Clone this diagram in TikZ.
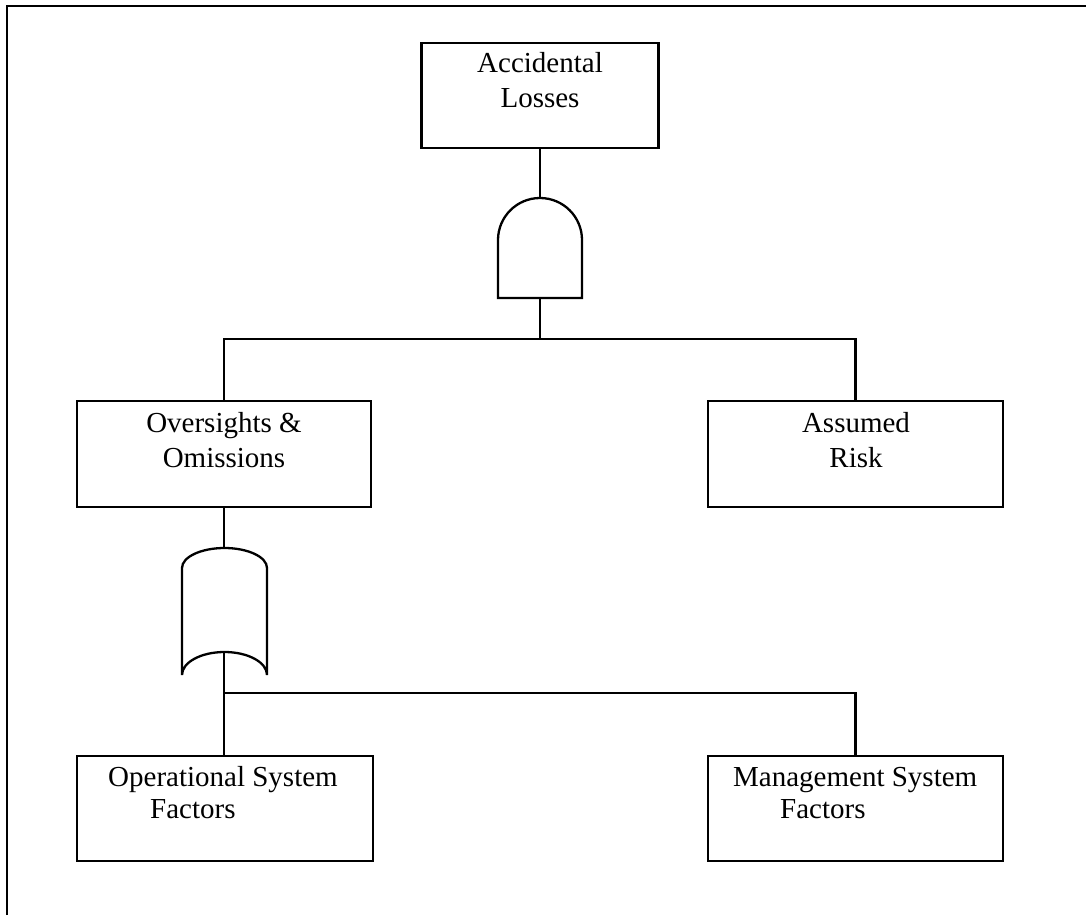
\documentclass[tikz,border=0pt]{standalone}
\usepackage{fontspec}
\setmainfont{Liberation Serif}
\begin{document}
\begin{tikzpicture}[x=1pt,y=1pt,
  box/.style={draw,line width=2.5pt,rectangle,inner sep=0pt,outer sep=0pt,anchor=north west},
  lbl/.style={anchor=base,inner sep=0pt,font=\fontsize{29}{35}\selectfont,align=center},
  lblL/.style={anchor=base west,inner sep=0pt,font=\fontsize{29}{32}\selectfont,align=left},
  conn/.style={line width=2.2pt},
  gate/.style={line width=2.3pt,line join=miter}]
\useasboundingbox (0,0) rectangle (1086,-915);
% outer frame (cut off at right and bottom)
\draw[line width=2.5pt] (7,-915) -- (7,-6) -- (1086,-6);
% boxes
\node[box,minimum width=237pt,minimum height=105pt] (AL) at (421.5,-43) {};
\node[box,minimum width=294pt,minimum height=106pt] (OO) at (77,-401) {};
\node[box,minimum width=295pt,minimum height=106pt] (AR) at (708,-401) {};
\node[box,minimum width=296pt,minimum height=105pt] (OS) at (77,-756) {};
\node[box,minimum width=295pt,minimum height=105pt] (MS) at (708,-756) {};
% texts (anchor at baseline of the last line)
\node[lbl] (tAL) at (540,-107.5) {Accidental\\Losses};
\node[lbl] (tOO) at (224,-467) {Oversights \&\\Omissions};
\node[lbl] (tAR) at (856,-467) {Assumed\\Risk};
\node[lblL] (tOS) at (108,-818) {Operational System\\\hspace*{42pt}Factors};
\node[lblL] (tMS) at (733,-818) {Management System\\\hspace*{47pt}Factors};
% AND gate
\coordinate (andtop) at (540,-198);
\coordinate (andbot) at (540,-298);
\draw[gate] (498,-298) -- (498,-240) arc[start angle=180,end angle=0,radius=42pt] -- (582,-298) -- cycle;
% OR gate
\coordinate (ortop) at (224,-548);
\coordinate (orbot) at (224,-652);
\draw[gate] (182,-675) -- (182,-568) arc[start angle=180,end angle=0,x radius=42.5pt,y radius=20pt]
  -- (267,-675) arc[start angle=0,end angle=180,x radius=42.5pt,y radius=23pt];
% junctions
\coordinate (j1) at (540,-339);
\coordinate (j2) at (224,-693);
% connectors
\draw[conn] (andtop) -- (andtop |- AL.south);
\draw[conn] (andbot) -- (j1);
\draw[conn] (OO.north) |- (j1) -| (AR.north);
\draw[conn] (ortop) -- (ortop |- OO.south);
\draw[conn] (orbot) -- (orbot |- OS.north);
\draw[conn] (j2) -| (MS.north);
\end{tikzpicture}
\end{document}
